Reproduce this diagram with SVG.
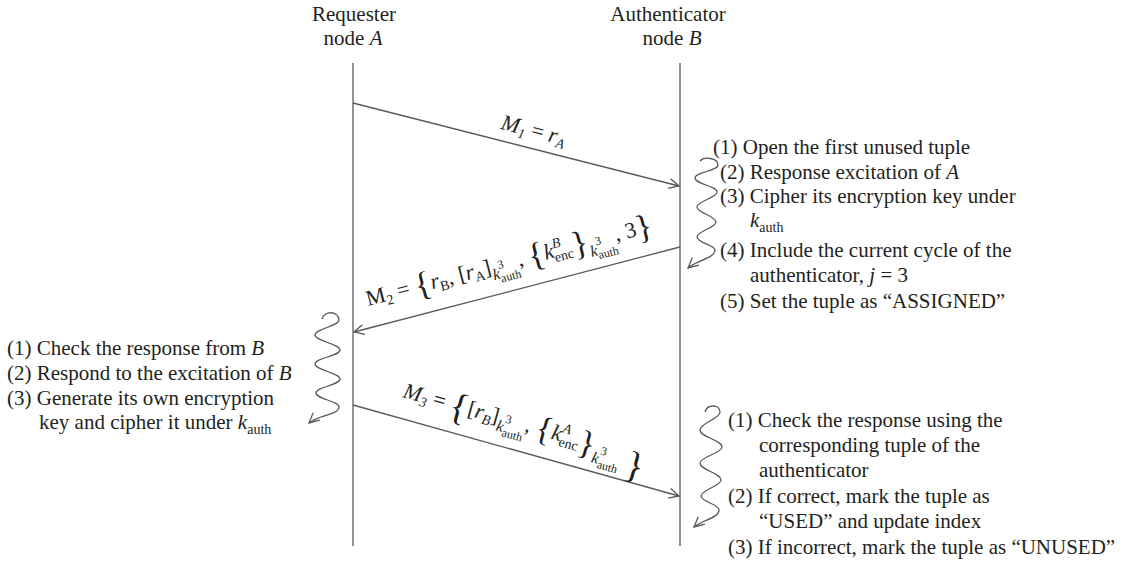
<svg xmlns="http://www.w3.org/2000/svg" width="1127" height="565" viewBox="0 0 1127 565">
<style>
text{font-family:"Liberation Serif","DejaVu Serif",serif;font-size:21px;fill:#231f20}
.it{font-style:italic}
.s{font-size:14px}
.k{font-size:16px;font-style:italic}
.t{font-size:12px}
.br{font-size:34px}
.bb{font-size:38px}
.lb{font-size:22px}
.ln{fill:none;stroke:#58595b;stroke-width:1.3}
.ar{fill:none;stroke:#58595b;stroke-width:1.3;marker-end:url(#ah)}
</style>
<defs>
<marker id="ah" viewBox="0 0 12 12" refX="11" refY="6" markerWidth="12" markerHeight="12" markerUnits="userSpaceOnUse" orient="auto">
<path d="M1,1 L11,6 L1,11" fill="none" stroke="#58595b" stroke-width="1.3"/>
</marker>
</defs>
<rect width="1127" height="565" fill="#fff"/>
<g id="nodeA">
<text x="354" y="21" text-anchor="middle">Requester</text>
<text x="353" y="45" text-anchor="middle">node <tspan class="it">A</tspan></text>
</g>
<g id="nodeB">
<text x="668" y="21" text-anchor="middle">Authenticator</text>
<text x="672" y="45" text-anchor="middle">node <tspan class="it">B</tspan></text>
</g>
<g id="connectors">
<path class="ln" d="M353 63V546"/>
<path class="ln" d="M680 63V546"/>
<path class="ar" d="M353 103L679 186"/>
<path class="ar" d="M680 247L354 332"/>
<path class="ar" d="M353 405L679 496"/>
<path class="ar" d="M322 319C324 311 338 310 339 320C339 326 315 329 315 335C315 341 340 344 340 350C340 356 315 358 315 364C315 370 340 373 340 379C340 385 316 387 316 393C316 399 339 401 339 407C339 415 318 415 309 423"/>
<path class="ar" d="M700 161C704 156 718 158 718 165C718 171 695 172 695 178C695 184 717 186 717 192C717 198 697 201 697 207C697 213 716 216 716 222C716 228 697 231 697 237C697 243 715 245 715 250C715 258 696 261 688 268"/>
<path class="ar" d="M705 412C707 404 720 404 720 412C720 419 700 423 700 430C700 437 722 440 722 447C722 453 700 457 700 463C700 470 721 473 721 480C721 486 701 490 701 496C701 502 719 504 719 510C719 518 702 520 694 527"/>
</g>
<g id="m1">
<g transform="translate(532 137) rotate(14.3)">
<text class="lb" text-anchor="middle"><tspan class="it">M</tspan><tspan class="s it" dy="4">1</tspan><tspan dy="-4"> = </tspan><tspan class="it">r</tspan><tspan class="s it" dy="4">A</tspan></text>
</g>
</g>
<g id="m2">
<g transform="translate(368 306) rotate(-14.6)">
<text class="lb" x="0" y="0"><tspan>M</tspan><tspan class="s" dy="4">2</tspan><tspan dy="-4"> = </tspan><tspan class="br" dy="4">{</tspan><tspan class="it" dy="-4">r</tspan><tspan class="s" dy="4">B</tspan><tspan dy="-4">, [</tspan><tspan class="it">r</tspan><tspan class="s" dy="4">A</tspan><tspan dy="-4">]</tspan><tspan class="k" dy="7">k</tspan><tspan class="t" dy="-10">3</tspan><tspan class="t" dx="-6" dy="14">auth</tspan><tspan dy="-11">, </tspan><tspan class="br" dy="4">{</tspan><tspan class="it" dy="-4">k</tspan><tspan class="s it" dy="-9">B</tspan><tspan class="s" dx="-9" dy="14">enc</tspan><tspan class="br" dy="-1">}</tspan><tspan class="k" dy="5">k</tspan><tspan class="t" dy="-10">3</tspan><tspan class="t" dx="-6" dy="14">auth</tspan><tspan dy="-13">, 3</tspan><tspan class="br" dy="4">}</tspan></text>
</g>
</g>
<g id="m3">
<g transform="translate(402 397) rotate(15.6)">
<text class="lb" x="0" y="0"><tspan class="it">M</tspan><tspan class="s it" dy="4">3</tspan><tspan dy="-4"> = </tspan><tspan class="bb" dy="7">{</tspan><tspan dy="-7">[</tspan><tspan class="it">r</tspan><tspan class="s it" dy="4">B</tspan><tspan dy="-4">]</tspan><tspan class="k" dy="7">k</tspan><tspan class="t" dy="-10">3</tspan><tspan class="t" dx="-6" dy="14">auth</tspan><tspan dy="-11">, </tspan><tspan class="br" dy="4">{</tspan><tspan class="it" dy="-4">k</tspan><tspan class="s it" dy="-9">A</tspan><tspan class="s" dx="-9" dy="14">enc</tspan><tspan class="br" dy="1">}</tspan><tspan class="k" dy="6">k</tspan><tspan class="t" dy="-10">3</tspan><tspan class="t" dx="-6" dy="14">auth</tspan><tspan class="bb" dx="7" dy="0">}</tspan></text>
</g>
</g>
<g id="noteB1">
<text x="713" y="154">(1) Open the first unused tuple</text>
<text x="720" y="179">(2) Response excitation of <tspan class="it">A</tspan></text>
<text x="720" y="203">(3) Cipher its encryption key under</text>
<text x="750" y="227"><tspan class="it">k</tspan><tspan class="s" dy="5">auth</tspan></text>
<text x="720" y="257">(4) Include the current cycle of the</text>
<text x="750" y="282">authenticator, <tspan class="it">j</tspan> = 3</text>
<text x="720" y="308">(5) Set the tuple as “ASSIGNED”</text>
</g>
<g id="noteA">
<text x="7" y="355">(1) Check the response from <tspan class="it">B</tspan></text>
<text x="7" y="380">(2) Respond to the excitation of <tspan class="it">B</tspan></text>
<text x="7" y="405">(3) Generate its own encryption</text>
<text x="39" y="429">key and cipher it under <tspan class="it">k</tspan><tspan class="s" dy="5">auth</tspan></text>
</g>
<g id="noteB2">
<text x="728" y="427">(1) Check the response using the</text>
<text x="759" y="452">corresponding tuple of the</text>
<text x="759" y="477">authenticator</text>
<text x="728" y="503">(2) If correct, mark the tuple as</text>
<text x="759" y="528">“USED” and update index</text>
<text x="728" y="554">(3) If incorrect, mark the tuple as “UNUSED”</text>
</g>
</svg>
